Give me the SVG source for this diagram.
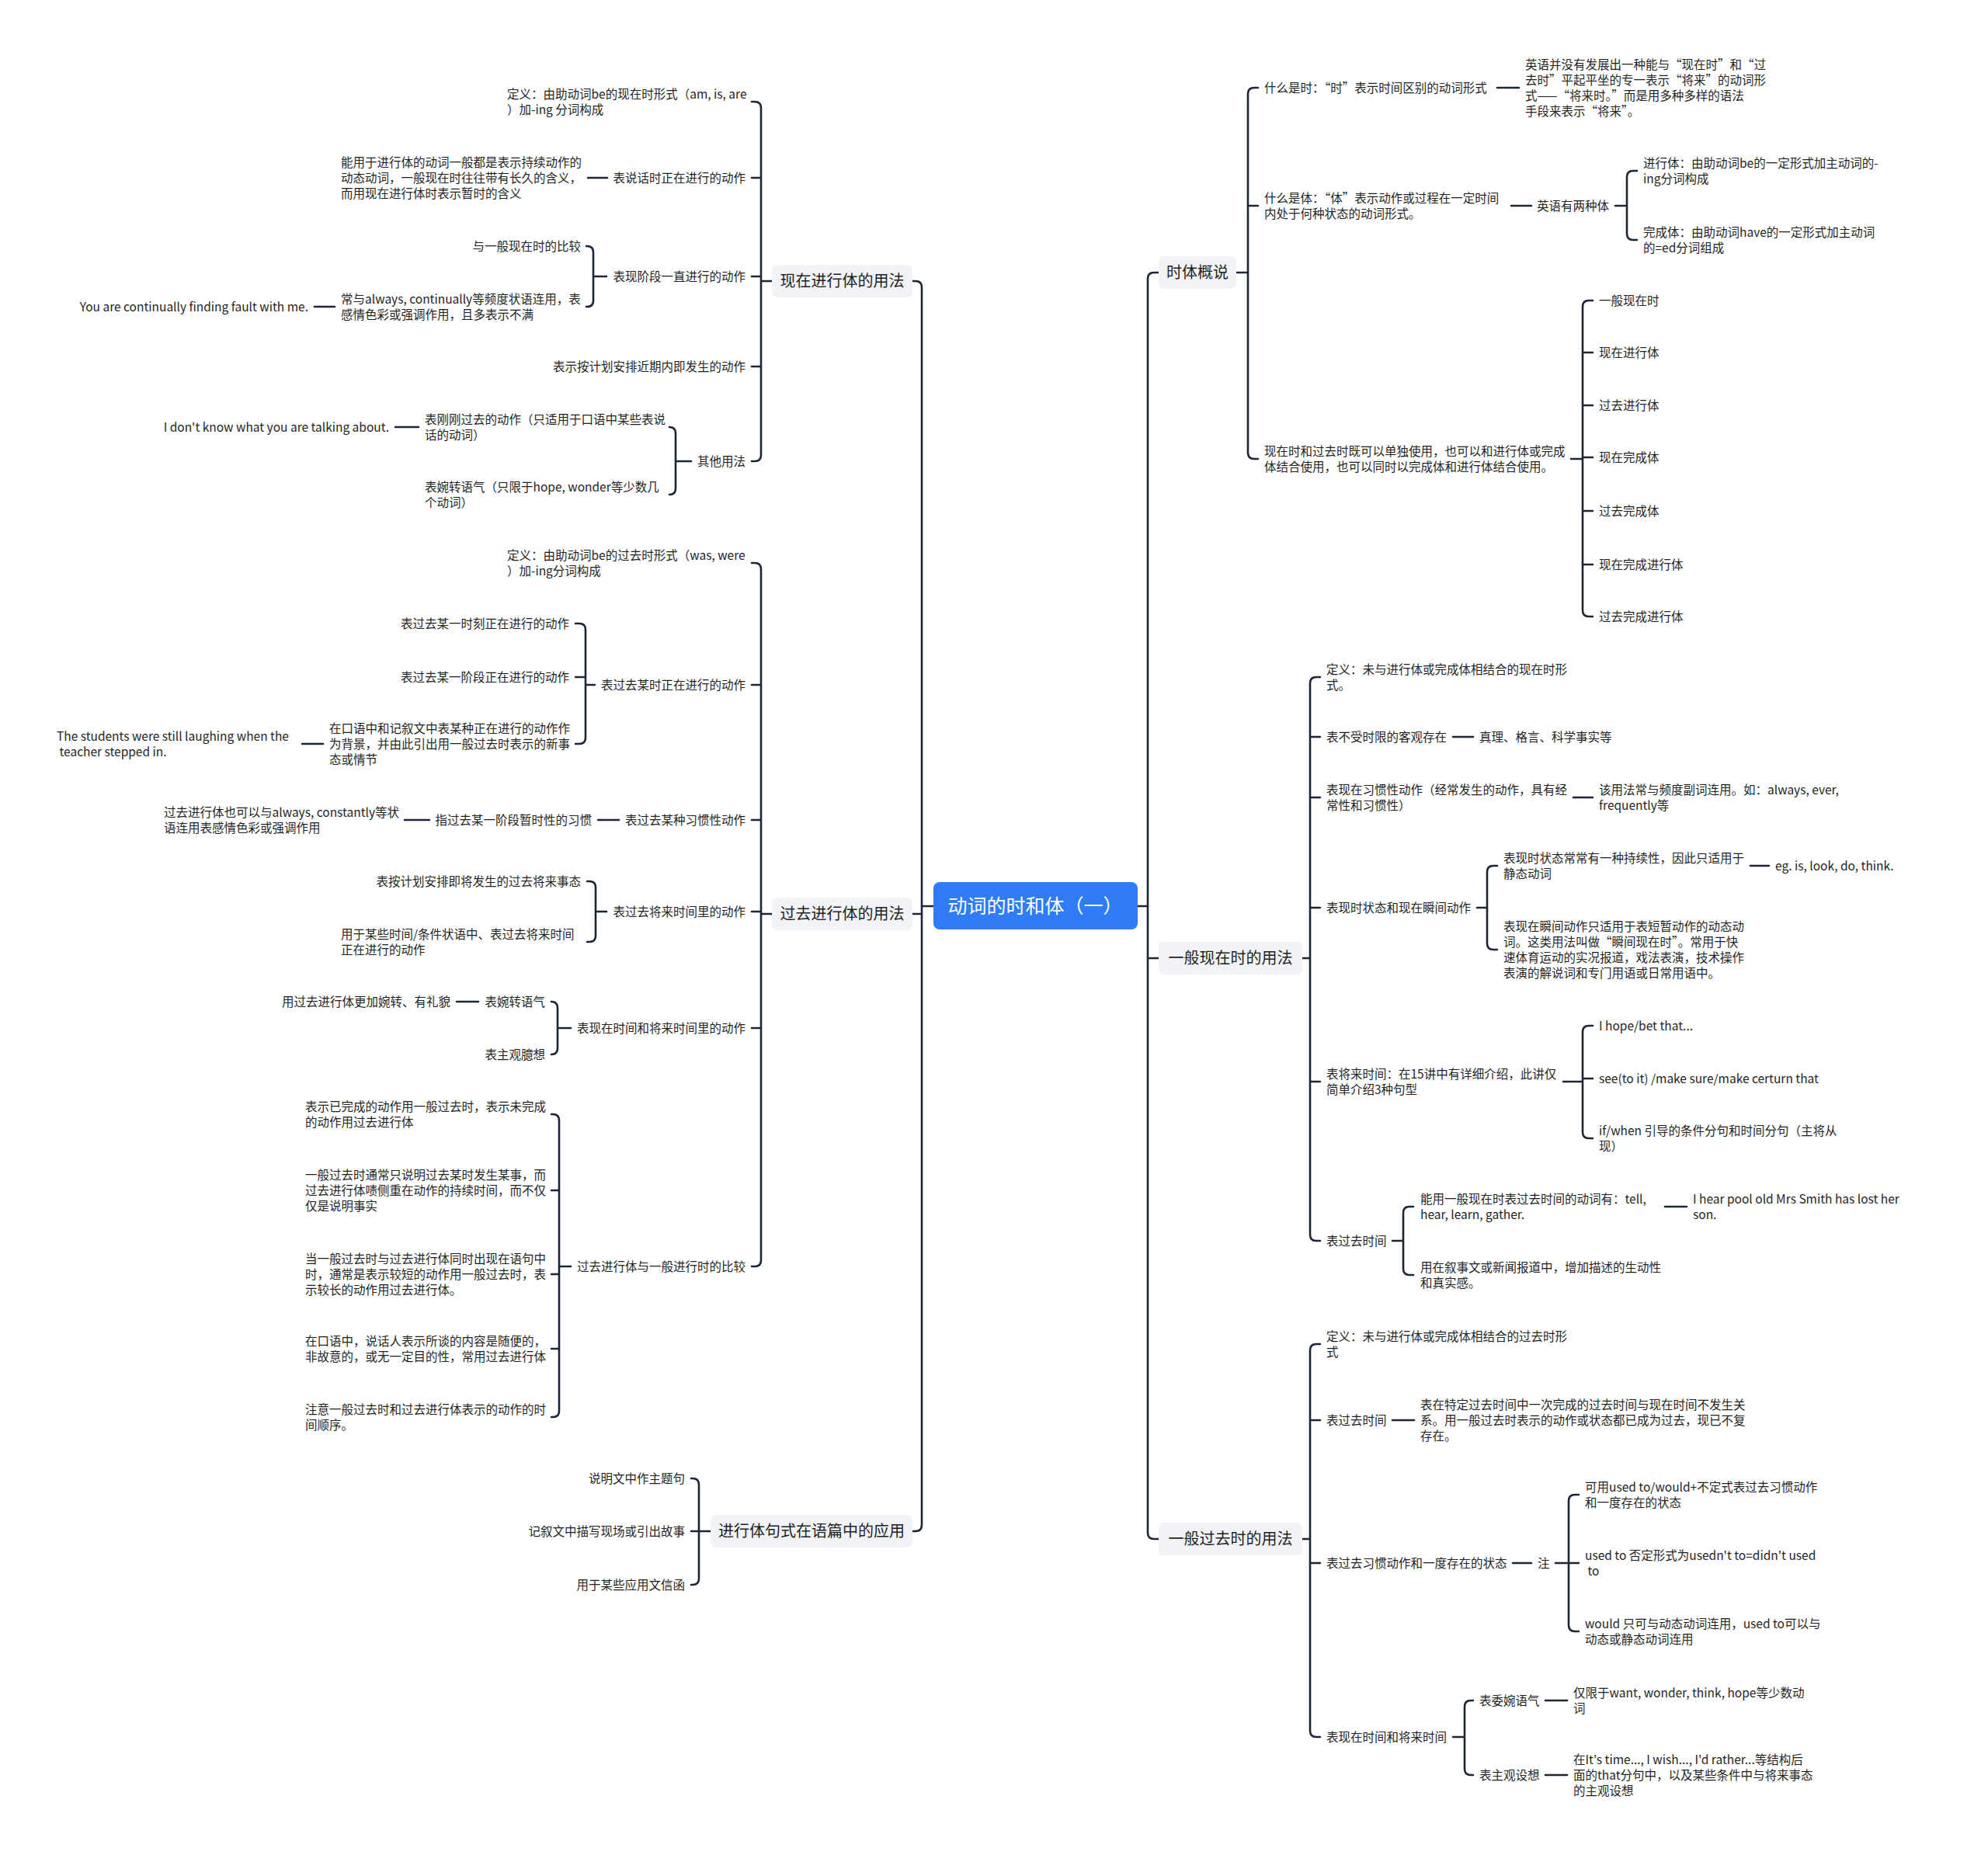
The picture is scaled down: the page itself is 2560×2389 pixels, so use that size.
<svg xmlns="http://www.w3.org/2000/svg" width="2560" height="2389" viewBox="0 0 2560 2389">
<style>
text{font-family:"Noto Sans CJK SC","Noto Sans",sans-serif;fill:#1f1f1f;font-size:15.5px}
.e{text-anchor:end}
.m{font-size:20px;text-anchor:middle}
.r{font-size:25px;fill:#fff;text-anchor:middle}
.box{fill:#f1f3f6}
.c path{fill:none;stroke:#1c2636;stroke-width:2.6;stroke-linecap:round;stroke-linejoin:round}
</style>
<rect width="2560" height="2389" fill="#fff"/>
<g id="connectors" class="c">
<path d="M1202 1167H1187M1465 1167H1478"/>
<path d="M1175 362H1179Q1187 362 1187 370V1964Q1187 1972 1179 1972H1175M1187 1177H1175"/>
<path d="M1492 351H1486Q1478 351 1478 359V1974Q1478 1982 1486 1982H1492M1478 1234H1492"/>
<path d="M994 362H980M968 131H972Q980 131 980 139V586Q980 594 972 594H968M980 229H968M980 356H968M980 472H968"/>
<path d="M782 229H757"/>
<path d="M781 356H764M755 317H756Q764 317 764 325V387Q764 395 756 395H755"/>
<path d="M431 395H405"/>
<path d="M890 594H870M862 550Q870 550 870 558V629Q870 637 862 637"/>
<path d="M539 550H509"/>
<path d="M994 1177H980M968 725H972Q980 725 980 733V1623Q980 1631 972 1631H968M980 882H968M980 1056H968M980 1174H968M980 1324H968"/>
<path d="M766 882H754M741 803H746Q754 803 754 811V950Q754 958 746 958H741M754 872H741"/>
<path d="M416 958H389"/>
<path d="M797 1056H770M553 1056H521"/>
<path d="M781 1174H767M756 1135H759Q767 1135 767 1143V1205Q767 1213 759 1213H756"/>
<path d="M735 1324H718M710 1290Q718 1290 718 1298V1350Q718 1358 710 1358"/>
<path d="M616 1290H588"/>
<path d="M735 1631H720M710 1435H712Q720 1435 720 1443V1817Q720 1825 712 1825H710M720 1533H710M720 1641H710M720 1737H710"/>
<path d="M915 1972H900M890 1904H892Q900 1904 900 1912V2033Q900 2041 892 2041H890M900 1972H890"/>
<path d="M1592 351H1607M1620 113H1615Q1607 113 1607 121V583Q1607 591 1615 591H1620M1607 265H1620"/>
<path d="M1928 113H1956"/>
<path d="M1946 265H1972M2080 265H2095M2108 220H2103Q2095 220 2095 228V301Q2095 309 2103 309H2108"/>
<path d="M2023 591H2038M2051 387H2046Q2038 387 2038 395V786Q2038 794 2046 794H2051M2038 454H2051M2038 522H2051M2038 589H2051M2038 658H2051M2038 727H2051"/>
<path d="M1677 1234H1687M1700 872H1695Q1687 872 1687 880V1590Q1687 1598 1695 1598H1700M1687 949H1700M1687 1027H1700M1687 1169H1700M1687 1393H1700"/>
<path d="M1871 949H1897M2026 1027H2051"/>
<path d="M1902 1169H1915M1928 1115H1923Q1915 1115 1915 1123V1215Q1915 1223 1923 1223H1928M2254 1115H2278"/>
<path d="M2013 1393H2038M2051 1321H2046Q2038 1321 2038 1329V1458Q2038 1466 2046 1466H2051M2038 1389H2051"/>
<path d="M1793 1598H1807M1820 1554H1815Q1807 1554 1807 1562V1634Q1807 1642 1815 1642H1820M2144 1554H2172"/>
<path d="M1677 1982H1687M1700 1731H1695Q1687 1731 1687 1739V2229Q1687 2237 1695 2237H1700M1687 1829H1700M1687 2013H1700"/>
<path d="M1793 1829H1821"/>
<path d="M1948 2013H1972M2003 2013H2020M2033 1925H2028Q2020 1925 2020 1933V2093Q2020 2101 2028 2101H2033M2020 2013H2033"/>
<path d="M1871 2237H1886M1897 2190H1894Q1886 2190 1886 2198V2278Q1886 2286 1894 2286H1897M1990 2190H2018M1990 2286H2018"/>
</g>
<g id="root"><rect x="1202" y="1136" width="263" height="61" rx="8" fill="#2f7cf6"/><text class="r" x="1333" y="1176">动词的时和体（一）</text></g>
<g id="b-l1"><rect class="box" x="994" y="341" width="181" height="42" rx="7"/><text class="m" x="1084.5" y="369">现在进行体的用法</text></g>
<g id="b-l2"><rect class="box" x="994" y="1156" width="181" height="42" rx="7"/><text class="m" x="1084.5" y="1184">过去进行体的用法</text></g>
<g id="b-l3"><rect class="box" x="915" y="1951" width="260" height="42" rx="7"/><text class="m" x="1045" y="1979">进行体句式在语篇中的应用</text></g>
<g id="b-r1"><rect class="box" x="1492" y="330" width="100" height="42" rx="7"/><text class="m" x="1542" y="358">时体概说</text></g>
<g id="b-r2"><rect class="box" x="1492" y="1213" width="185" height="42" rx="7"/><text class="m" x="1584.5" y="1241">一般现在时的用法</text></g>
<g id="b-r3"><rect class="box" x="1492" y="1961" width="185" height="42" rx="7"/><text class="m" x="1584.5" y="1989">一般过去时的用法</text></g>
<g id="l1a"><text x="653" y="126.5">定义：由助动词be的现在时形式（am, is, are<tspan x="653" y="146.5">）加-ing 分词构成</tspan></text></g>
<g id="l1b"><text class="e" x="960" y="234.5">表说话时正在进行的动作</text></g>
<g id="l1b1"><text x="439" y="214.5">能用于进行体的动词一般都是表示持续动作的<tspan x="439" y="234.5">动态动词，一般现在时往往带有长久的含义，</tspan><tspan x="439" y="254.5">而用现在进行体时表示暂时的含义</tspan></text></g>
<g id="l1c"><text class="e" x="960" y="361.5">表现阶段一直进行的动作</text></g>
<g id="l1c1"><text class="e" x="748" y="322.5">与一般现在时的比较</text></g>
<g id="l1c2"><text x="439" y="390.5">常与always, continually等频度状语连用，表<tspan x="439" y="410.5">感情色彩或强调作用，且多表示不满</tspan></text></g>
<g id="l1c2a"><text class="e" x="397" y="400.5">You are continually finding fault with me.</text></g>
<g id="l1d"><text class="e" x="960" y="477.5">表示按计划安排近期内即发生的动作</text></g>
<g id="l1e"><text class="e" x="960" y="599.5">其他用法</text></g>
<g id="l1e1"><text x="547" y="545.5">表刚刚过去的动作（只适用于口语中某些表说<tspan x="547" y="565.5">话的动词）</tspan></text></g>
<g id="l1e1a"><text class="e" x="501" y="555.5">I don't know what you are talking about.</text></g>
<g id="l1e2"><text x="547" y="632.5">表婉转语气（只限于hope, wonder等少数几<tspan x="547" y="652.5">个动词）</tspan></text></g>
<g id="l2a"><text x="653" y="720.5">定义：由助动词be的过去时形式（was, were<tspan x="653" y="740.5">）加-ing分词构成</tspan></text></g>
<g id="l2b"><text class="e" x="960" y="887.5">表过去某时正在进行的动作</text></g>
<g id="l2b1"><text class="e" x="733" y="808.5">表过去某一时刻正在进行的动作</text></g>
<g id="l2b2"><text class="e" x="733" y="877.5">表过去某一阶段正在进行的动作</text></g>
<g id="l2b3"><text x="424" y="943.5">在口语中和记叙文中表某种正在进行的动作作<tspan x="424" y="963.5">为背景，并由此引出用一般过去时表示的新事</tspan><tspan x="424" y="983.5">态或情节</tspan></text></g>
<g id="l2b3a"><text x="73" y="953.5">The students were still laughing when the<tspan x="73" y="973.5"> teacher stepped in.</tspan></text></g>
<g id="l2c"><text class="e" x="960" y="1061.5">表过去某种习惯性动作</text></g>
<g id="l2c1"><text class="e" x="762" y="1061.5">指过去某一阶段暂时性的习惯</text></g>
<g id="l2c1a"><text x="211" y="1051.5">过去进行体也可以与always, constantly等状<tspan x="211" y="1071.5">语连用表感情色彩或强调作用</tspan></text></g>
<g id="l2d"><text class="e" x="960" y="1179.5">表过去将来时间里的动作</text></g>
<g id="l2d1"><text class="e" x="748" y="1140.5">表按计划安排即将发生的过去将来事态</text></g>
<g id="l2d2"><text x="439" y="1208.5">用于某些时间/条件状语中、表过去将来时间<tspan x="439" y="1228.5">正在进行的动作</tspan></text></g>
<g id="l2e"><text class="e" x="960" y="1329.5">表现在时间和将来时间里的动作</text></g>
<g id="l2e1"><text class="e" x="702" y="1295.5">表婉转语气</text></g>
<g id="l2e1a"><text class="e" x="580" y="1295.5">用过去进行体更加婉转、有礼貌</text></g>
<g id="l2e2"><text class="e" x="702" y="1363.5">表主观臆想</text></g>
<g id="l2f"><text class="e" x="960" y="1636.5">过去进行体与一般进行时的比较</text></g>
<g id="l2f1"><text x="393" y="1430.5">表示已完成的动作用一般过去时，表示未完成<tspan x="393" y="1450.5">的动作用过去进行体</tspan></text></g>
<g id="l2f2"><text x="393" y="1518.5">一般过去时通常只说明过去某时发生某事，而<tspan x="393" y="1538.5">过去进行体啧侧重在动作的持续时间，而不仅</tspan><tspan x="393" y="1558.5">仅是说明事实</tspan></text></g>
<g id="l2f3"><text x="393" y="1626.5">当一般过去时与过去进行体同时出现在语句中<tspan x="393" y="1646.5">时，通常是表示较短的动作用一般过去时，表</tspan><tspan x="393" y="1666.5">示较长的动作用过去进行体。</tspan></text></g>
<g id="l2f4"><text x="393" y="1732.5">在口语中，说话人表示所谈的内容是随便的，<tspan x="393" y="1752.5">非故意的，或无一定目的性，常用过去进行体</tspan></text></g>
<g id="l2f5"><text x="393" y="1820.5">注意一般过去时和过去进行体表示的动作的时<tspan x="393" y="1840.5">间顺序。</tspan></text></g>
<g id="l3a"><text class="e" x="882" y="1909.5">说明文中作主题句</text></g>
<g id="l3b"><text class="e" x="882" y="1977.5">记叙文中描写现场或引出故事</text></g>
<g id="l3c"><text class="e" x="882" y="2046.5">用于某些应用文信函</text></g>
<g id="r1a"><text x="1628" y="118.5">什么是时：“时”表示时间区别的动词形式</text></g>
<g id="r1a1"><text x="1964" y="88.5">英语并没有发展出一种能与“现在时”和“过<tspan x="1964" y="108.5">去时”平起平坐的专一表示“将来”的动词形</tspan><tspan x="1964" y="128.5">式——“将来时。”而是用多种多样的语法</tspan><tspan x="1964" y="148.5">手段来表示“将来”。</tspan></text></g>
<g id="r1b"><text x="1628" y="260.5">什么是体：“体”表示动作或过程在一定时间<tspan x="1628" y="280.5">内处于何种状态的动词形式。</tspan></text></g>
<g id="r1b1"><text x="1979" y="270.5">英语有两种体</text></g>
<g id="r1b1a"><text x="2116" y="215.5">进行体：由助动词be的一定形式加主动词的-<tspan x="2116" y="235.5">ing分词构成</tspan></text></g>
<g id="r1b1b"><text x="2116" y="304.5">完成体：由助动词have的一定形式加主动词<tspan x="2116" y="324.5">的=ed分词组成</tspan></text></g>
<g id="r1c"><text x="1628" y="586.5">现在时和过去时既可以单独使用，也可以和进行体或完成<tspan x="1628" y="606.5">体结合使用，也可以同时以完成体和进行体结合使用。</tspan></text></g>
<g id="r1c1"><text x="2059" y="392.5">一般现在时</text></g>
<g id="r1c2"><text x="2059" y="459.5">现在进行体</text></g>
<g id="r1c3"><text x="2059" y="527.5">过去进行体</text></g>
<g id="r1c4"><text x="2059" y="594.5">现在完成体</text></g>
<g id="r1c5"><text x="2059" y="663.5">过去完成体</text></g>
<g id="r1c6"><text x="2059" y="732.5">现在完成进行体</text></g>
<g id="r1c7"><text x="2059" y="799.5">过去完成进行体</text></g>
<g id="r2a"><text x="1708" y="867.5">定义：未与进行体或完成体相结合的现在时形<tspan x="1708" y="887.5">式。</tspan></text></g>
<g id="r2b"><text x="1708" y="954.5">表不受时限的客观存在</text></g>
<g id="r2b1"><text x="1905" y="954.5">真理、格言、科学事实等</text></g>
<g id="r2c"><text x="1708" y="1022.5">表现在习惯性动作（经常发生的动作，具有经<tspan x="1708" y="1042.5">常性和习惯性）</tspan></text></g>
<g id="r2c1"><text x="2059" y="1022.5">该用法常与频度副词连用。如：always, ever,<tspan x="2059" y="1042.5">frequently等</tspan></text></g>
<g id="r2d"><text x="1708" y="1174.5">表现时状态和现在瞬间动作</text></g>
<g id="r2d1"><text x="1936" y="1110.5">表现时状态常常有一种持续性，因此只适用于<tspan x="1936" y="1130.5">静态动词</tspan></text></g>
<g id="r2d1a"><text x="2286" y="1120.5">eg. is, look, do, think.</text></g>
<g id="r2d2"><text x="1936" y="1198.5">表现在瞬间动作只适用于表短暂动作的动态动<tspan x="1936" y="1218.5">词。这类用法叫做“瞬间现在时”。常用于快</tspan><tspan x="1936" y="1238.5">速体育运动的实况报道，戏法表演，技术操作</tspan><tspan x="1936" y="1258.5">表演的解说词和专门用语或日常用语中。</tspan></text></g>
<g id="r2e"><text x="1708" y="1388.5">表将来时间：在15讲中有详细介绍，此讲仅<tspan x="1708" y="1408.5">简单介绍3种句型</tspan></text></g>
<g id="r2e1"><text x="2059" y="1326.5">I hope/bet that...</text></g>
<g id="r2e2"><text x="2059" y="1394.5">see(to it) /make sure/make certurn that</text></g>
<g id="r2e3"><text x="2059" y="1461.5">if/when 引导的条件分句和时间分句（主将从<tspan x="2059" y="1481.5">现）</tspan></text></g>
<g id="r2f"><text x="1708" y="1603.5">表过去时间</text></g>
<g id="r2f1"><text x="1829" y="1549.5">能用一般现在时表过去时间的动词有：tell,<tspan x="1829" y="1569.5">hear, learn, gather.</tspan></text></g>
<g id="r2f1a"><text x="2180" y="1549.5">I hear pool old Mrs Smith has lost her<tspan x="2180" y="1569.5">son.</tspan></text></g>
<g id="r2f2"><text x="1829" y="1637.5">用在叙事文或新闻报道中，增加描述的生动性<tspan x="1829" y="1657.5">和真实感。</tspan></text></g>
<g id="r3a"><text x="1708" y="1726.5">定义：未与进行体或完成体相结合的过去时形<tspan x="1708" y="1746.5">式</tspan></text></g>
<g id="r3b"><text x="1708" y="1834.5">表过去时间</text></g>
<g id="r3b1"><text x="1829" y="1814.5">表在特定过去时间中一次完成的过去时间与现在时间不发生关<tspan x="1829" y="1834.5">系。用一般过去时表示的动作或状态都已成为过去，现已不复</tspan><tspan x="1829" y="1854.5">存在。</tspan></text></g>
<g id="r3c"><text x="1708" y="2018.5">表过去习惯动作和一度存在的状态</text></g>
<g id="r3c1"><text x="1980" y="2018.5">注</text></g>
<g id="r3c1a"><text x="2041" y="1920.5">可用used to/would+不定式表过去习惯动作<tspan x="2041" y="1940.5">和一度存在的状态</tspan></text></g>
<g id="r3c1b"><text x="2041" y="2008.5">used to 否定形式为usedn't to=didn't used<tspan x="2041" y="2028.5"> to</tspan></text></g>
<g id="r3c1c"><text x="2041" y="2096.5">would 只可与动态动词连用，used to可以与<tspan x="2041" y="2116.5">动态或静态动词连用</tspan></text></g>
<g id="r3d"><text x="1708" y="2242.5">表现在时间和将来时间</text></g>
<g id="r3d1"><text x="1905" y="2195.5">表委婉语气</text></g>
<g id="r3d1a"><text x="2026" y="2185.5">仅限于want, wonder, think, hope等少数动<tspan x="2026" y="2205.5">词</tspan></text></g>
<g id="r3d2"><text x="1905" y="2291.5">表主观设想</text></g>
<g id="r3d2a"><text x="2026" y="2271.5">在It's time..., I wish..., I'd rather...等结构后<tspan x="2026" y="2291.5">面的that分句中，以及某些条件中与将来事态</tspan><tspan x="2026" y="2311.5">的主观设想</tspan></text></g>
</svg>
